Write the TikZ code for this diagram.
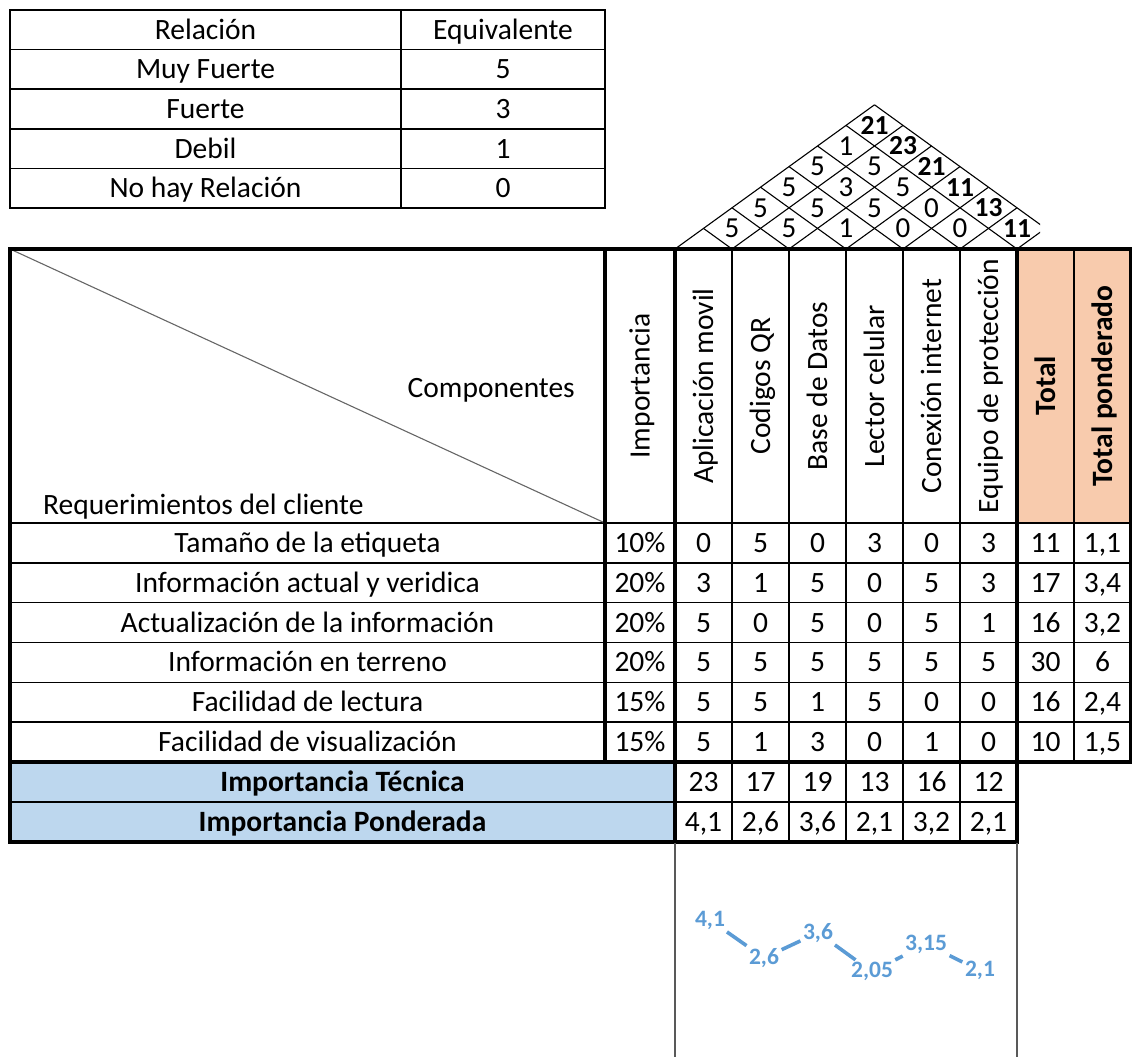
\documentclass[tikz,border=0pt]{standalone}
\usepackage{fontspec}
\setmainfont{Carlito}
\definecolor{hdrorange}{HTML}{F8CBAD}
\definecolor{rowblue}{HTML}{BDD7EE}
\definecolor{chartblue}{HTML}{5B9BD5}
\begin{document}
\begin{tikzpicture}[x=1pt,y=-1pt,
  txt/.style={inner sep=0pt, anchor=base, font=\fontsize{29.5}{34}\selectfont},
  txtb/.style={inner sep=0pt, anchor=base, font=\fontsize{29.5}{34}\selectfont\bfseries},
  vtxt/.style={txt, rotate=90},
  vtxtb/.style={txtb, rotate=90},
  gridthin/.style={line width=1.5pt, line cap=rect},
  gridmid/.style={line width=2.2pt, line cap=rect},
  gridthick/.style={line width=3.2pt, line cap=rect},
  diagline/.style={draw=black!60, line width=1.1pt},
  roofline/.style={line width=1.1pt},
  rooftxt/.style={inner sep=0pt, font=\fontsize{29}{32}\selectfont},
  rooftot/.style={inner sep=0pt, font=\fontsize{27.5}{30}\selectfont\bfseries},
  chartlbl/.style={inner sep=2.5pt, text=chartblue, font=\fontsize{23.5}{26}\selectfont\bfseries},
  chartline/.style={draw=chartblue, line width=3.6pt},
  axisline/.style={draw=black!65, line width=1.6pt},
]
\useasboundingbox (0,0) rectangle (1132,1057);

% ---------- legend table ----------
\foreach \yy in {49.6,89.2,128.8,168.4}
  \draw[gridthin] (10,\yy) -- (605,\yy);
\draw[gridthin] (401,10) -- (401,208);
\draw[gridmid] (10,10) rectangle (605,208);
\foreach \a/\b [count=\i] in {Relación/Equivalente, Muy Fuerte/5, Fuerte/3, Debil/1, No hay Relación/0} {
  \node[txt] (lrel\i) at (205.5, 29.8+39.6*\i-39.6+9.5) {\a};
  \node[txt] (lval\i) at (503, 29.8+39.6*\i-39.6+9.5) {\b};
}

% ---------- fills ----------
\fill[hdrorange] (1017,249) rectangle (1131,523);
\fill[rowblue] (10,762) rectangle (675,842);

% ---------- roof ----------
\begin{scope}
  \clip (660,95) rectangle (1040,249);
  \foreach \k in {0,...,6}
    \draw[roofline] (675+57*\k,249) -- ++(28.5*7-28.5*\k, -20.6*7+20.6*\k);
  \foreach \k in {1,...,7}
    \draw[roofline] (675+57*\k,249) -- ++(-28.5*\k, -20.6*\k);
\end{scope}
\foreach \rr/\vals in {1/{5,5,1,0,0}, 2/{5,5,5,0}, 3/{5,3,5}, 4/{5,5}, 5/{1}} {
  \foreach \v [count=\j] in \vals
    \node[rooftxt] (c\rr-\j) at (675+57*\j+28.5*\rr-28.5, 249-20.6*\rr) {\v};
}
\foreach \v [count=\rr] in {11,13,11,21,23,21}
  \node[rooftot] (s\rr) at (675+399-57*\rr+28.5*\rr-28.5, 249-20.6*\rr) {\v};

% ---------- main grid ----------
\foreach \i in {0,...,5}
  \draw[gridthin] (10,523+39.83*\i) -- (1131,523+39.83*\i);
\draw[gridthin] (10,802) -- (1017,802);
\foreach \xx in {732,789,846,903,960}
  \draw[gridthin] (\xx,249) -- (\xx,842);
\draw[gridthin] (1074,249) -- (1074,762);
\draw[gridthick] (1131,249) -- (1131,762);
\draw[diagline] (10,249) -- (605,523);
\draw[gridthick] (605,249) -- (605,762);
\draw[gridthick] (675,249) -- (675,842);
\draw[gridthick] (1017,249) -- (1017,842);
\draw[gridthick] (10,762) -- (1131,762);
\draw[gridthick] (10,249) -- (1131,249);
\draw[gridthick] (10,249) -- (10,842) -- (1017,842);

% ---------- header ----------
\node[txt, anchor=base east] (comp) at (575,397.5) {Componentes};
\node[txt, anchor=base west] (reqc) at (43,514.5) {Requerimientos del cliente};
\foreach \t/\xc [count=\c] in {Importancia/640, Aplicación movil/703.5, Codigos QR/760.5,
    Base de Datos/817.5, Lector celular/874.5, Conexión internet/931.5, Equipo de protección/988.5}
  \node[vtxt] (h\c) at (\xc+9.5,386) {\t};
\node[vtxtb] (htot) at (1045.5+9.5,386) {Total};
\node[vtxtb] (htp) at (1102.5+9.5,386) {Total ponderado};

% ---------- body ----------
\foreach \lab/\imp/\vals [count=\i] in {
  {Tamaño de la etiqueta}/{10\%}/{0,5,0,3,0,3,11,{1,1}},
  {Información actual y veridica}/{20\%}/{3,1,5,0,5,3,17,{3,4}},
  {Actualización de la información}/{20\%}/{5,0,5,0,5,1,16,{3,2}},
  {Información en terreno}/{20\%}/{5,5,5,5,5,5,30,6},
  {Facilidad de lectura}/{15\%}/{5,5,1,5,0,0,16,{2,4}},
  {Facilidad de visualización}/{15\%}/{5,1,3,0,1,0,10,{1,5}}} {
  \node[txt] (req\i) at (307.5,523+39.83*\i-19.9+9.5) {\lab};
  \node[txt] (imp\i) at (640,523+39.83*\i-19.9+9.5) {\imp};
  \foreach \v [count=\c] in \vals
    \node[txt] (v\i-\c) at (646.5+57*\c,523+39.83*\i-19.9+9.5) {\v};
}

% ---------- technical importance ----------
\node[txtb] (tec) at (342.5,791.5) {Importancia Técnica};
\node[txtb] (pond) at (342.5,831.5) {Importancia Ponderada};
\foreach \v [count=\c] in {23,17,19,13,16,12}
  \node[txt] (t\c) at (646.5+57*\c,791.5) {\v};
\foreach \v [count=\c] in {{4,1},{2,6},{3,6},{2,1},{3,2},{2,1}}
  \node[txt] (p\c) at (646.5+57*\c,831.5) {\v};

% ---------- chart ----------
\draw[axisline] (675,843) -- (675,1057);
\draw[axisline] (1017,843) -- (1017,1057);
\foreach \v/\lab [count=\c] in {4.1/{4,1}, 2.6/{2,6}, 3.6/{3,6}, 2.05/{2,05}, 3.15/{3,15}, 2.1/{2,1}}
  \node[chartlbl] (d\c) at (656+54*\c, 920+25.3*4.1-25.3*\v) {\lab};
\foreach \a/\b in {1/2,2/3,3/4,4/5,5/6}
  \draw[chartline] (d\a) -- (d\b);
\end{tikzpicture}
\end{document}
